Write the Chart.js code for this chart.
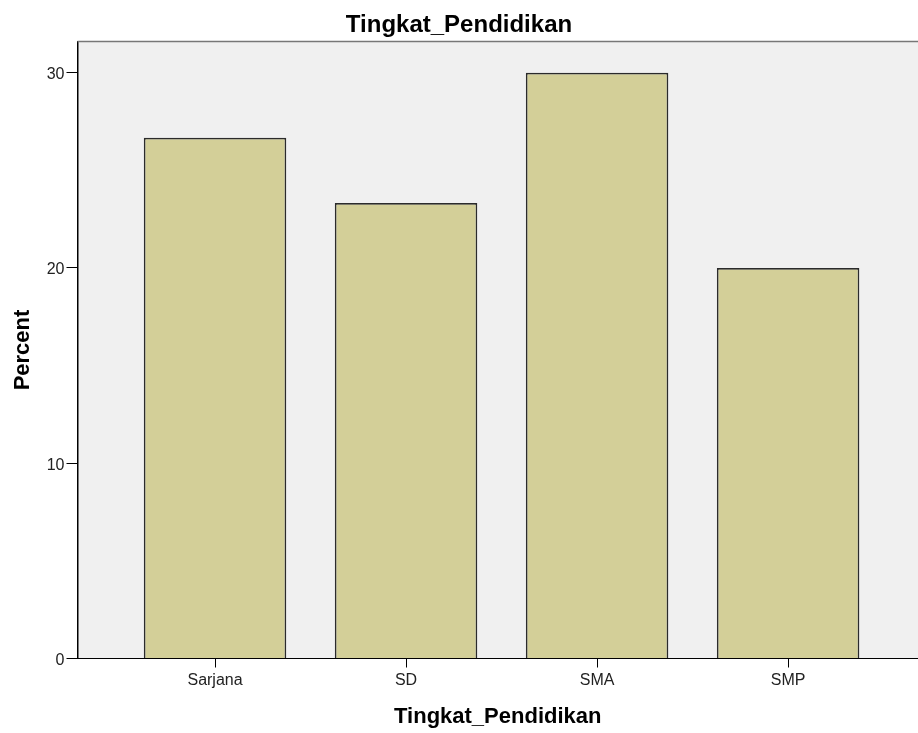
<!DOCTYPE html>
<html>
<head>
<meta charset="utf-8">
<title>Tingkat_Pendidikan</title>
<script src="https://cdn.jsdelivr.net/npm/chart.js@4.4.1/dist/chart.umd.min.js"></script>
<style>
  html, body { margin: 0; padding: 0; background: #fff; }
  #wrap { width: 918px; height: 733px; position: relative; }
</style>
</head>
<body>
<div id="wrap"><canvas id="eduChart"></canvas></div>
<script>
// data
const categories = ['Sarjana', 'SD', 'SMA', 'SMP'];
const percentValues = [26.67, 23.33, 30.0, 20.0];
const yTickValues = [0, 10, 20, 30];

const FONT = "'Liberation Sans', Arial, sans-serif";

// light grey plot background + grey top frame line
const plotFrame = {
  id: 'plotFrame',
  beforeDraw(chart) {
    const { ctx, chartArea: a } = chart;
    ctx.save();
    ctx.fillStyle = '#f0f0f0';
    ctx.fillRect(a.left, a.top, a.right - a.left, a.bottom - a.top);
    ctx.restore();
  },
  afterDraw(chart) {
    const { ctx, chartArea: a } = chart;
    ctx.save();
    ctx.strokeStyle = '#777';
    ctx.lineWidth = 1.5;
    ctx.beginPath();
    ctx.moveTo(a.left, a.top);
    ctx.lineTo(a.right, a.top);
    ctx.stroke();
    ctx.restore();
  }
};

document.addEventListener('DOMContentLoaded', () => {
  const ctx = document.getElementById('eduChart');
  new Chart(ctx, {
    type: 'bar',
    data: {
      datasets: [{
        label: 'Percent',
        data: categories.map((c, i) => ({ x: i, y: percentValues[i] })),
        backgroundColor: '#d3cf98',
        borderColor: '#2b2b2b',
        borderWidth: 1.7,
        categoryPercentage: 1,
        barPercentage: 0.746
      }]
    },
    options: {
      responsive: true,
      maintainAspectRatio: false,
      animation: false,
      devicePixelRatio: 1,
      layout: { padding: 0 },
      plugins: {
        legend: { display: false },
        tooltip: { enabled: false },
        title: {
          display: true,
          text: 'Tingkat_Pendidikan',
          color: '#000',
          font: { family: FONT, size: 24, weight: 'bold' },
          padding: { top: 11, bottom: 1.7 }
        }
      },
      scales: {
        x: {
          type: 'linear',
          offset: false,
          min: -0.72,
          max: 3.68,
          afterBuildTicks: s => { s.ticks = categories.map((c, i) => ({ value: i })); },
          afterFit: s => { s.height = 74.5; },
          ticks: {
            callback: v => categories[v],
            color: '#222',
            font: { family: FONT, size: 16 },
            padding: 3,
            autoSkip: false,
            maxRotation: 0
          },
          grid: { offset: false, drawOnChartArea: false, tickLength: 9, color: '#000', lineWidth: 1 },
          border: { color: '#000', width: 1 },
          title: {
            display: true,
            text: 'Tingkat_Pendidikan',
            color: '#000',
            font: { family: FONT, size: 22, weight: 'bold' },
            padding: { top: 0, bottom: 3.3 }
          }
        },
        y: {
          min: 0,
          max: 31.6,
          afterBuildTicks: s => { s.ticks = yTickValues.map(v => ({ value: v })); },
          afterFit: s => { s.width = 77.5; },
          ticks: {
            color: '#222',
            font: { family: FONT, size: 16 },
            padding: 2,
            labelOffset: 2
          },
          grid: { drawOnChartArea: false, tickLength: 11, color: '#000', lineWidth: 1 },
          border: { color: '#000', width: 1.5 },
          title: {
            display: true,
            text: 'Percent',
            color: '#000',
            font: { family: FONT, size: 22, weight: 'bold' },
            padding: { top: 10, bottom: 0 }
          }
        }
      }
    },
    plugins: [plotFrame]
  });
});
</script>
</body>
</html>
